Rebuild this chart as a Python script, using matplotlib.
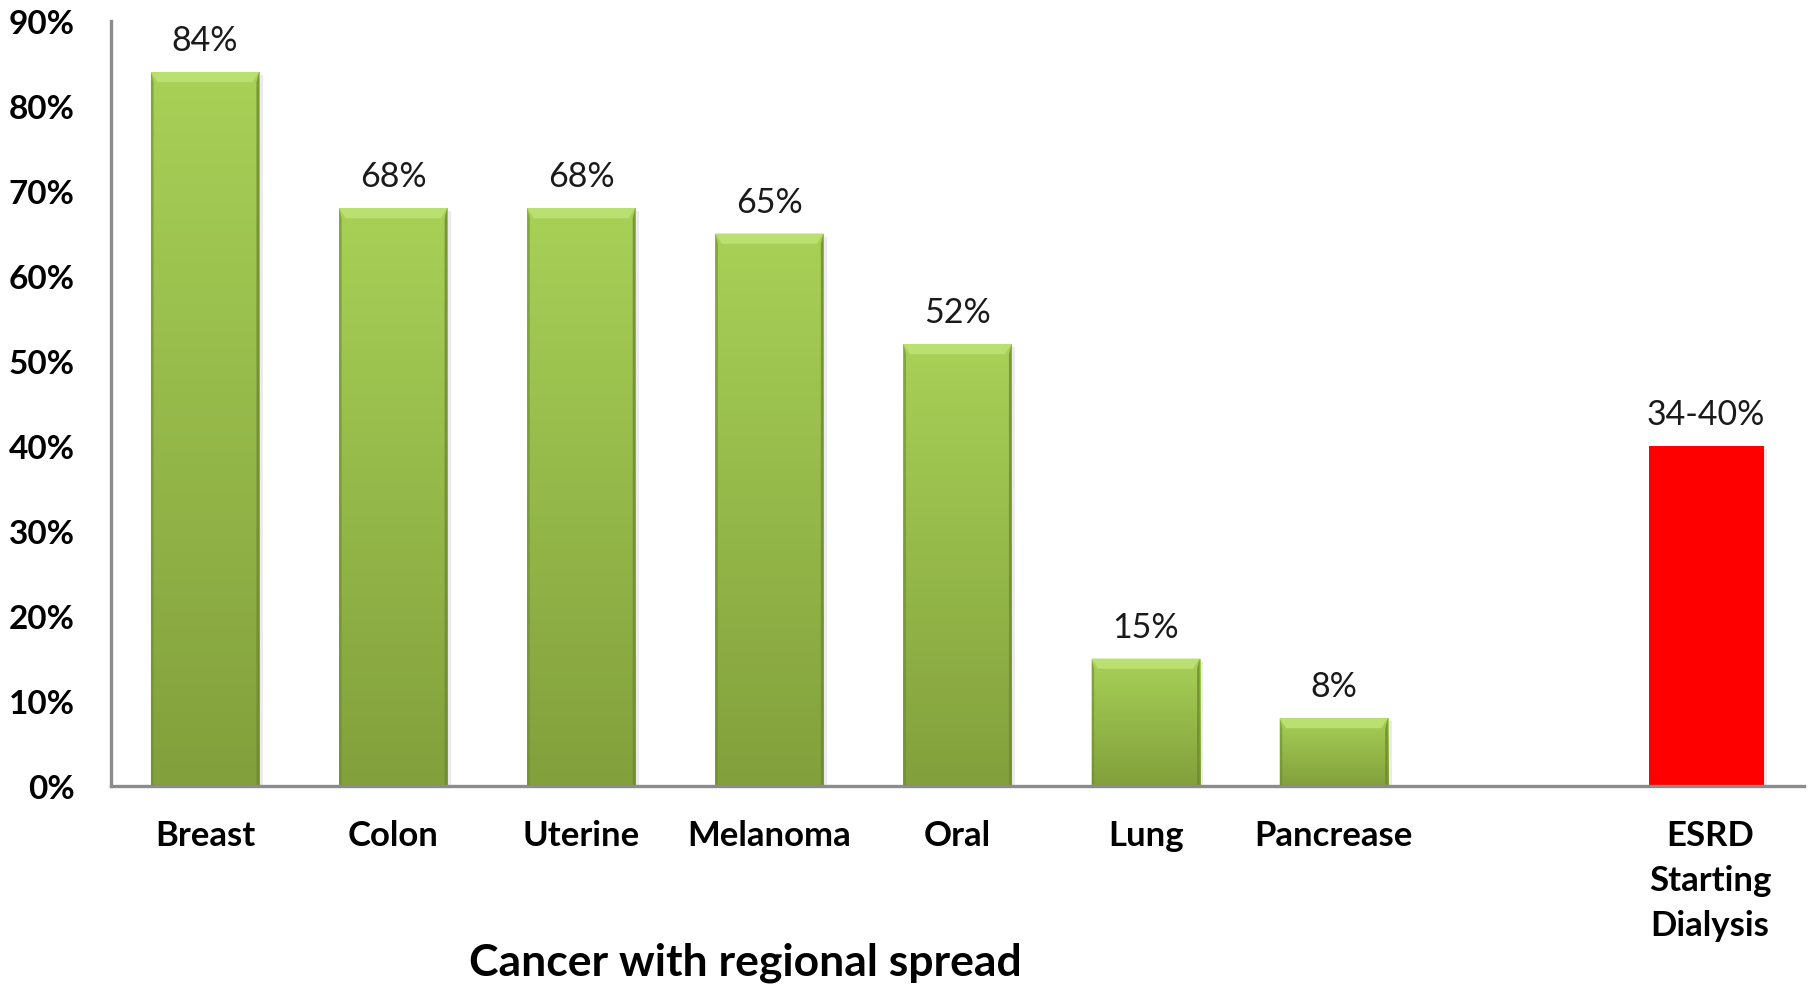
import matplotlib
matplotlib.use('Agg')
import matplotlib.pyplot as plt
import numpy as np
from matplotlib.patches import Rectangle, Polygon
from matplotlib.colors import LinearSegmentedColormap

# ── data ─────────────────────────────────────────────
categories = ['Breast', 'Colon', 'Uterine', 'Melanoma', 'Oral', 'Lung',
              'Pancrease', '', 'ESRD\nStarting\nDialysis']
values = [0.84, 0.68, 0.68, 0.65, 0.52, 0.15, 0.08, None, 0.40]
value_labels = ['84%', '68%', '68%', '65%', '52%', '15%', '8%', '', '34-40%']
y_ticks = [0.0, 0.1, 0.2, 0.3, 0.4, 0.5, 0.6, 0.7, 0.8, 0.9]
y_tick_labels = ['0%', '10%', '20%', '30%', '40%', '50%', '60%', '70%',
                 '80%', '90%']
x_title = 'Cancer with regional spread'

plt.rcParams['font.family'] = ['Lato', 'DejaVu Sans']

GREEN_TOP = '#a8d157'
GREEN_BOT = '#82a03c'
GREEN_EDGE = '#6e8a2f'
GREEN_HI = '#b9e070'
RED = '#ff0000'
AXIS_GREY = '#8c8c8c'

fig = plt.figure(figsize=(18.10, 9.87), dpi=100)
ax = fig.add_axes([0.0613, 0.2026, 0.9354, 0.7751])
ax.set_xlim(-0.5, len(categories) - 0.5)
ax.set_ylim(0, 0.9)

green_cmap = LinearSegmentedColormap.from_list('g', [GREEN_BOT, GREEN_TOP])
grad = np.linspace(0, 1, 256).reshape(-1, 1)

for i, v in enumerate(values):
    if v is None:
        continue
    if categories[i].startswith('ESRD'):
        w = 0.61
        x0 = i - 0.02 - w / 2
        # soft shadow
        ax.add_patch(Rectangle((x0 + 0.02, 0), w, v - 0.004, color='#000000',
                               alpha=0.08, lw=0, zorder=2))
        ax.add_patch(Rectangle((x0, 0), w, v, facecolor=RED, lw=0, zorder=3))
    else:
        w = 0.575
        x0 = i - w / 2
        ax.add_patch(Rectangle((x0 + 0.02, 0), w, v - 0.004, color='#000000',
                               alpha=0.08, lw=0, zorder=2))
        rect = Rectangle((x0, 0), w, v, facecolor='none', lw=0, zorder=3)
        ax.add_patch(rect)
        im = ax.imshow(grad, cmap=green_cmap, origin='lower', aspect='auto',
                       extent=(x0, x0 + w, 0, v), zorder=3,
                       interpolation='bilinear')
        im.set_clip_path(rect)
        # bevel: lighter top band, darker sides
        bx, by = 0.035, 0.012
        top = Polygon([(x0, v), (x0 + w, v), (x0 + w - bx, v - by),
                       (x0 + bx, v - by)], closed=True,
                      facecolor=GREEN_HI, lw=0, zorder=4)
        left = Polygon([(x0, 0), (x0, v), (x0 + bx * 0.4, v - by),
                        (x0 + bx * 0.4, 0)], closed=True,
                       facecolor=GREEN_EDGE, alpha=0.6, lw=0, zorder=4)
        right = Polygon([(x0 + w, 0), (x0 + w, v), (x0 + w - bx * 0.4, v - by),
                         (x0 + w - bx * 0.4, 0)], closed=True,
                        facecolor=GREEN_EDGE, alpha=0.8, lw=0, zorder=4)
        for p in (top, left, right):
            ax.add_patch(p)

    ax.annotate(value_labels[i], xy=(x0 + w / 2, v), xytext=(0, 23),
                textcoords='offset points', ha='center', va='center',
                fontsize=24.5, color='#1a1a1a', zorder=5)

ax.set_xticks(range(len(categories)))
ax.set_xticklabels(categories, fontsize=25, fontweight='bold',
                   linespacing=1.5, va='top')
ax.set_yticks(y_ticks)
ax.set_yticklabels(y_tick_labels, fontsize=24, fontweight='bold')
ax.tick_params(axis='x', length=0, pad=23.5)
ax.tick_params(axis='y', length=0, pad=26)

for side in ('top', 'right'):
    ax.spines[side].set_visible(False)
for side in ('left', 'bottom'):
    ax.spines[side].set_color(AXIS_GREY)
    ax.spines[side].set_linewidth(2.4)
    ax.spines[side].set_zorder(6)

fig.text(0.412, 0.025, x_title, ha='center', va='center', fontsize=32,
         fontweight='bold')

fig.savefig('out.png', dpi=100, facecolor='white')
